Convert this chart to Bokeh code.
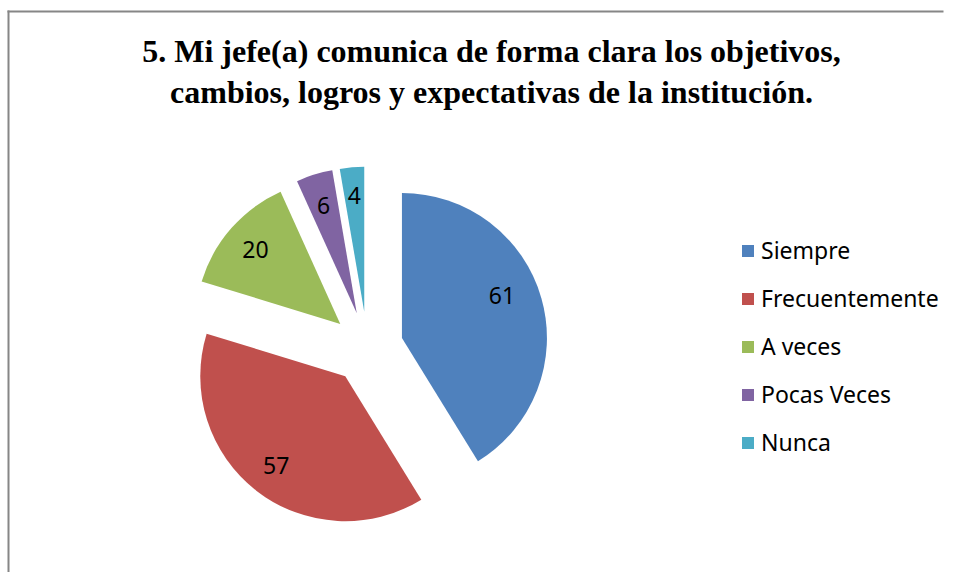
import math
from bokeh.plotting import figure
from bokeh.models import (ColumnDataSource, Range1d, Legend, LegendItem, Label,
                          BoxAnnotation)
from bokeh.core.properties import value
from bokeh.embed import file_html
from bokeh.resources import INLINE

# ---- data ----
categories = ["Siempre", "Frecuentemente", "A veces", "Pocas Veces", "Nunca"]
counts = [61, 57, 20, 6, 4]
colors = ["#4F81BD", "#C0504D", "#9BBB59", "#8064A2", "#4BACC6"]
title_lines = ["5. Mi jefe(a) comunica de forma clara los objetivos,",
               "cambios, logros y expectativas de la institución."]

W, H = 946, 572
# layout (pixel-like data units, y up)
cx, cy = 366.8, 224.8
R = 145
explode = 36
label_r = 113
# per-slice label placement tweaks (radius scale, angle shift in degrees)
label_tweak = [(0.96, 7.0), (1.0, 0.0), (1.0, 0.0), (1.0, 0.0), (1.03, 0.0)]

total = float(sum(counts))
starts, ends, xs, ys, lx, ly = [], [], [], [], [], []
cum = 0.0
for i, c in enumerate(counts):
    a0 = math.pi / 2 - 2 * math.pi * cum / total
    cum += c
    a1 = math.pi / 2 - 2 * math.pi * cum / total
    mid = (a0 + a1) / 2
    ox = cx + explode * math.cos(mid)
    oy = cy + explode * math.sin(mid)
    starts.append(a0)
    ends.append(a1)
    xs.append(ox)
    ys.append(oy)
    sc, dd = label_tweak[i]
    la = mid + math.radians(dd)
    lx.append(ox + label_r * sc * math.cos(la))
    ly.append(oy + label_r * sc * math.sin(la))

p = figure(width=W, height=H, output_backend="svg", toolbar_location=None,
           x_range=Range1d(0, W), y_range=Range1d(0, H),
           x_axis_type=None, y_axis_type=None, min_border=0)
p.grid.visible = False
p.outline_line_color = None
p.background_fill_color = "white"
p.border_fill_color = "white"

# chart border: top and left edges (right/bottom lie beyond the window)
border = "#868686"
p.add_layout(BoxAnnotation(left=7, right=W - 3, top=562, bottom=560,
                           fill_color=border, fill_alpha=1, line_color=None))
p.add_layout(BoxAnnotation(left=7, right=9, top=562, bottom=0,
                           fill_color=border, fill_alpha=1, line_color=None))

renderers = []
for i in range(len(counts)):
    src = ColumnDataSource(dict(x=[xs[i]], y=[ys[i]], s=[starts[i]], e=[ends[i]]))
    r = p.wedge(x="x", y="y", radius=R, start_angle="s", end_angle="e",
                direction="clock", source=src, fill_color=colors[i],
                line_color=None)
    renderers.append(r)

lsrc = ColumnDataSource(dict(x=lx, y=ly, t=[str(c) for c in counts]))
p.text(x="x", y="y", text="t", source=lsrc, text_align="center",
       text_baseline="middle", text_font=value("Noto Sans"),
       text_font_size="23px", text_color="black")

legend = Legend(items=[LegendItem(label=categories[i], renderers=[renderers[i]])
                       for i in range(len(categories))],
                location=(740, 113), orientation="vertical",
                glyph_width=15, glyph_height=15, label_height=34, spacing=14,
                label_standoff=6, padding=0, margin=0,
                border_line_color=None, background_fill_alpha=0,
                label_text_font="Noto Sans", label_text_font_size="23px",
                label_text_color="black")
p.add_layout(legend, "center")

for t, yb in zip(title_lines, [522, 481]):
    p.add_layout(Label(x=491, y=yb, text=t, text_align="center",
                       text_baseline="alphabetic",
                       text_font="Liberation Serif", text_font_style="bold",
                       text_font_size="32px", text_color="black"))

open("out.html", "w").write(file_html(p, INLINE))
